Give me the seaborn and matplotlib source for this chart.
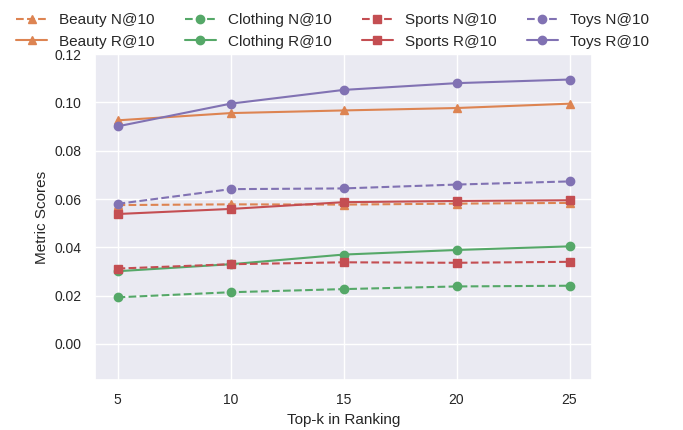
import matplotlib
matplotlib.use("Agg")
import matplotlib.pyplot as plt
import seaborn as sns
import pandas as pd

sns.set_theme(style="darkgrid", palette="deep")
plt.rcParams["font.family"] = ["Liberation Sans", "DejaVu Sans"]

# ── data ──────────────────────────────────────────────────────────────────────
topk = [5, 10, 15, 20, 25]
beauty_n = [0.0575, 0.0578, 0.0577, 0.0581, 0.0584]
beauty_r = [0.0926, 0.0956, 0.0967, 0.0977, 0.0995]
clothing_n = [0.0193, 0.0214, 0.0227, 0.0238, 0.0241]
clothing_r = [0.0301, 0.0330, 0.0370, 0.0389, 0.0404]
sports_n = [0.0312, 0.0330, 0.0338, 0.0336, 0.0340]
sports_r = [0.0538, 0.0559, 0.0587, 0.0592, 0.0595]
toys_n = [0.0580, 0.0641, 0.0644, 0.0660, 0.0673]
toys_r = [0.0901, 0.0995, 0.1052, 0.1080, 0.1095]

series = [
    ("Beauty N@10", beauty_n, "^", "--", 1),
    ("Beauty R@10", beauty_r, "^", "-", 1),
    ("Clothing N@10", clothing_n, "o", "--", 2),
    ("Clothing R@10", clothing_r, "o", "-", 2),
    ("Sports N@10", sports_n, "s", "--", 3),
    ("Sports R@10", sports_r, "s", "-", 3),
    ("Toys N@10", toys_n, "o", "--", 4),
    ("Toys R@10", toys_r, "o", "-", 4),
]
pal = sns.color_palette("deep")

fig = plt.figure(figsize=(6.83, 4.3), dpi=100)
ax = fig.add_axes([0.139, 0.116, 0.728, 0.758])

for name, vals, mk, ls, ci in series:
    df = pd.DataFrame({"k": topk, "v": vals})
    sns.lineplot(data=df, x="k", y="v", ax=ax, color=pal[ci], marker=mk,
                 linestyle=ls, markersize=6, markeredgewidth=1,
                 markeredgecolor=pal[ci], label=name)

ax.set_ylim(-0.015, 0.12)
ax.set_xticks(topk)
ax.set_xlabel("Top-k in Ranking", fontsize=11)
ax.set_ylabel("Metric Scores", fontsize=11)
ax.tick_params(labelsize=10)
ax.legend(loc="lower center", bbox_to_anchor=(0.478, 0.975), ncol=4,
          frameon=False, fontsize=11, columnspacing=2.0, handlelength=2.0)

fig.savefig("out.png", dpi=100)
